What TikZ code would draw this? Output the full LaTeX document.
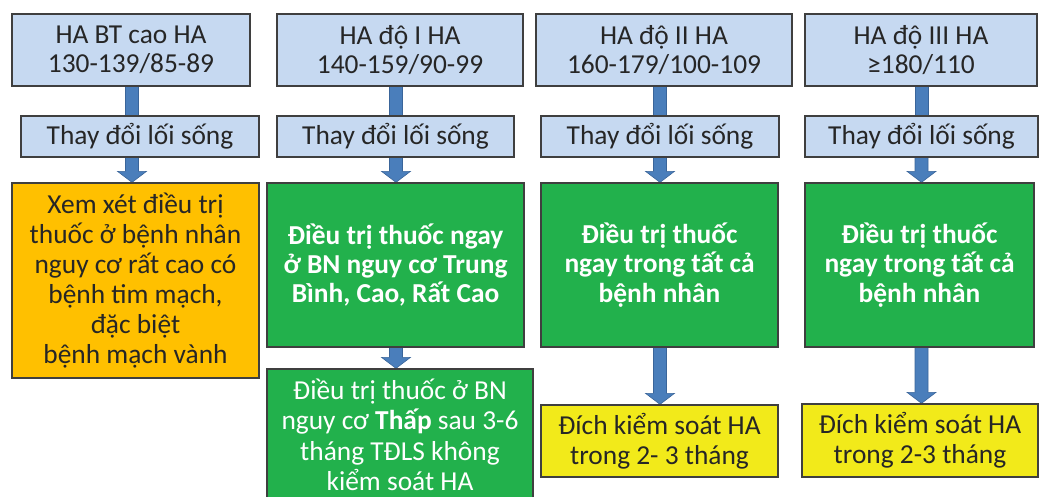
\documentclass[tikz,border=0pt]{standalone}
\usepackage{fontspec}
\setmainfont{Carlito}
\usetikzlibrary{calc}
\pgfdeclarelayer{background}
\pgfsetlayers{background,main}

\definecolor{boxblue}{HTML}{C6D9F1}
\definecolor{boxorange}{HTML}{FFC000}
\definecolor{boxgreen}{HTML}{22B14C}
\definecolor{boxyellow}{HTML}{F2EA1A}
\definecolor{edgegray}{HTML}{3F3F3F}
\definecolor{textdark}{HTML}{262626}
\definecolor{arrowblue}{HTML}{4A7EBB}
\definecolor{arrowedge}{HTML}{3A659A}

\tikzset{
  base/.style={draw=edgegray, line width=1.3bp, inner sep=0pt, align=center,
    font=\fontsize{27.5}{29}\selectfont, text=textdark},
  headbox/.style={base, fill=boxblue},
  lifebox/.style={base, fill=boxblue, minimum height=41bp},
  orangebox/.style={base, fill=boxorange, font=\fontsize{27.5}{30}\selectfont},
  greenbox/.style={base, fill=boxgreen, text=white, font=\fontsize{27.5}{29.5}\selectfont\bfseries},
  greenplain/.style={base, fill=boxgreen, text=white, font=\fontsize{27.5}{30.5}\selectfont},
  yellowbox/.style={base, fill=boxyellow, font=\fontsize{27.5}{30}\selectfont},
  arrowfill/.style={fill=arrowblue, draw=arrowedge, line width=0.6bp},
}

% plain bar between two anchors (x taken from the start point)
\newcommand{\barlink}[2]{%
  \path[arrowfill] let \p1=(#1), \p2=(#2) in
    (\x1-6.5bp,\y1) rectangle (\x1+6.5bp,\y2);}
% block arrow between two anchors (x taken from the start point)
\newcommand{\blocklink}[2]{%
  \path[arrowfill] let \p1=(#1), \p2=(#2) in
    (\x1-6.5bp,\y1) -- (\x1+6.5bp,\y1) -- (\x1+6.5bp,\y2+11bp) --
    (\x1+14.5bp,\y2+11bp) -- (\x1,\y2) -- (\x1-14.5bp,\y2+11bp) --
    (\x1-6.5bp,\y2+11bp) -- cycle;}

\begin{document}
\begin{tikzpicture}[x=1bp,y=-1bp]
\useasboundingbox (0,0) rectangle (1039,497);

% column axes for the arrows
\coordinate (c1) at (132,0);
\coordinate (c2) at (396,0);
\coordinate (c3) at (660,0);
\coordinate (c4) at (921.5,0);

% blood pressure grades
\node[headbox, minimum width=238bp, minimum height=72bp] (t1) at (131,50)
  {HA BT cao HA\\130-139/85-89};
\node[headbox, minimum width=246bp, minimum height=72bp] (t2) at (400,50)
  {HA độ I HA\\140-159/90-99};
\node[headbox, minimum width=256bp, minimum height=72bp] (t3) at (664,50)
  {HA độ II HA\\160-179/100-109};
\node[headbox, minimum width=232bp, minimum height=72bp] (t4) at (921,50)
  {HA độ III HA\\≥180/110};

% lifestyle change
\node[lifebox, minimum width=238bp] (l1) at (140,136.5) {Thay đổi lối sống};
\node[lifebox, minimum width=237bp] (l2) at (395.5,136.5) {Thay đổi lối sống};
\node[lifebox, minimum width=238bp] (l3) at (660,136.5) {Thay đổi lối sống};
\node[lifebox, minimum width=233bp] (l4) at (921.5,136.5) {Thay đổi lối sống};

% treatment decisions
\node[orangebox, minimum width=247bp, minimum height=195bp] (d1) at (135.5,280.5)
  {Xem xét điều trị\\thuốc ở bệnh nhân\\nguy cơ rất cao có\\bệnh tim mạch,\\đặc biệt\\bệnh mạch vành};
\node[greenbox, minimum width=257bp, minimum height=164bp] (d2) at (395.5,265)
  {Điều trị thuốc ngay\\ở BN nguy cơ Trung\\Bình, Cao, Rất Cao};
\node[greenbox, minimum width=237bp, minimum height=164bp] (d3) at (659.5,265)
  {Điều trị thuốc\\ngay trong tất cả\\bệnh nhân};
\node[greenbox, minimum width=229bp, minimum height=164bp] (d4) at (919.5,265)
  {Điều trị thuốc\\ngay trong tất cả\\bệnh nhân};

% follow-up
\node[greenplain, minimum width=266bp, minimum height=132bp] (f2) at (400,435)
  {Điều trị thuốc ở BN\\nguy cơ \textbf{Thấp} sau 3-6\\tháng TĐLS không\\kiểm soát HA};
\node[yellowbox, minimum width=237bp, minimum height=72bp] (f3) at (659.5,441)
  {Đích kiểm soát HA\\trong 2- 3 tháng};
\node[yellowbox, minimum width=236bp, minimum height=73bp] (f4) at (920,440.5)
  {Đích kiểm soát HA\\trong 2-3 tháng};

\begin{pgfonlayer}{background}
  \barlink{t1.south -| c1}{l1.north -| c1}
  \barlink{t2.south -| c2}{l2.north -| c2}
  \barlink{t3.south -| c3}{l3.north -| c3}
  \barlink{t4.south -| c4}{l4.north -| c4}
  \blocklink{l1.south -| c1}{d1.north -| c1}
  \blocklink{l2.south -| c2}{d2.north -| c2}
  \blocklink{l3.south -| c3}{d3.north -| c3}
  \blocklink{l4.south -| c4}{d4.north -| c4}
  \blocklink{d2.south -| c2}{f2.north -| c2}
  \blocklink{d3.south -| c3}{f3.north -| c3}
  \blocklink{d4.south -| c4}{f4.north -| c4}
\end{pgfonlayer}
\end{tikzpicture}
\end{document}
